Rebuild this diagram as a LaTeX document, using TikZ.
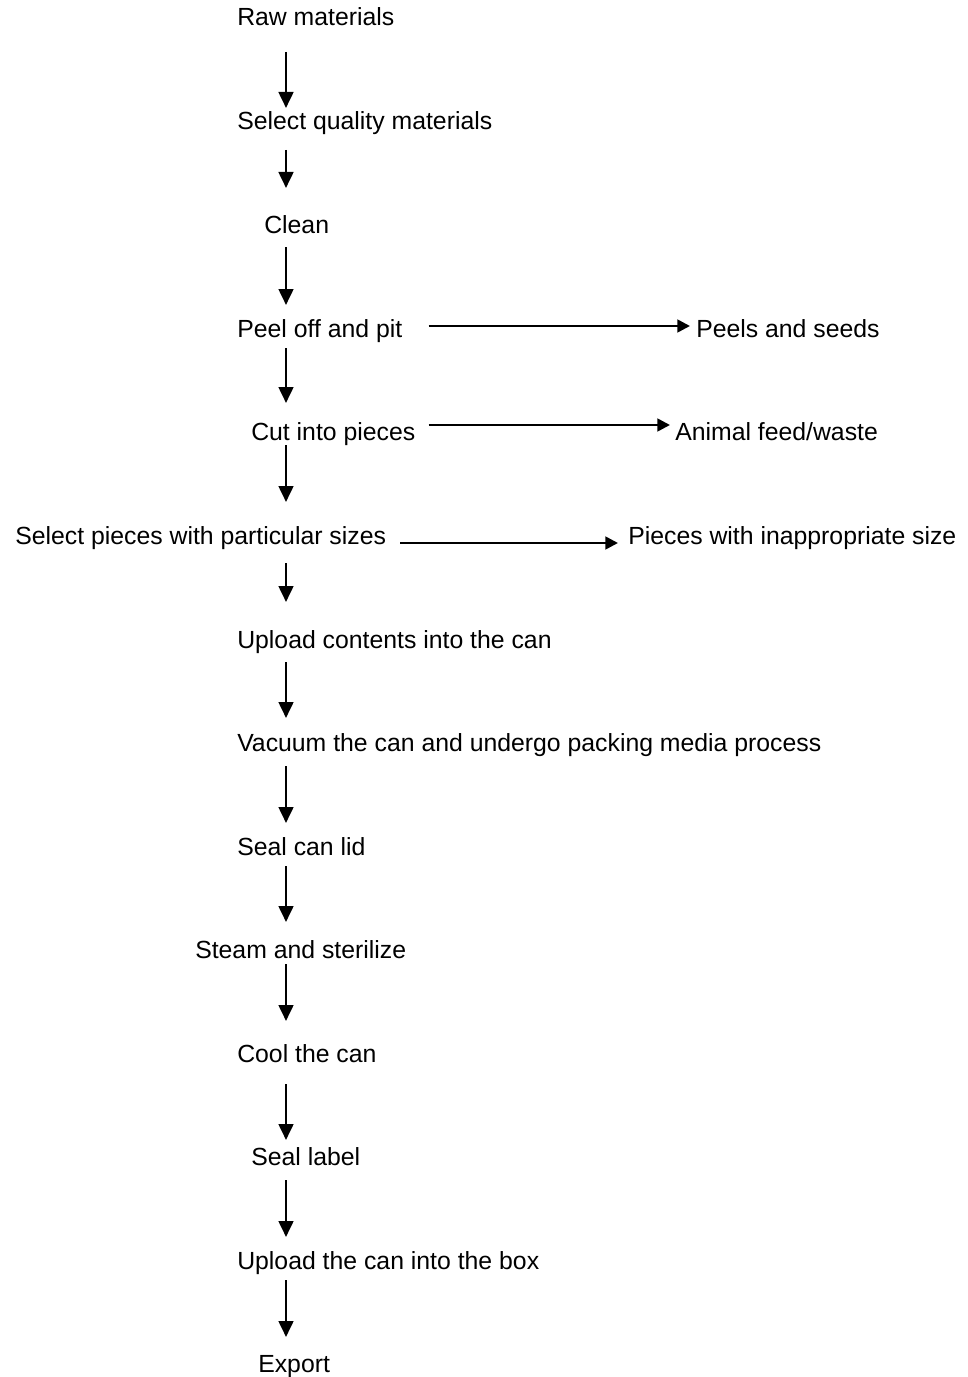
\documentclass[tikz,border=0pt]{standalone}
\usepackage{fontspec}
\setmainfont{Liberation Sans}
\usetikzlibrary{arrows.meta,calc}

\begin{document}
\begin{tikzpicture}[
  x=0.75pt, y=-0.75pt,
  font=\fontsize{18.6}{22}\selectfont,
  stage/.style={anchor=base west, inner sep=0pt},
  down/.style={-{Triangle[length=12pt,width=11pt]}, line width=2pt},
  aside/.style={-{Triangle[length=9.5pt,width=9.5pt]}, line width=2pt},
]
\useasboundingbox (0,0) rectangle (967,1377);
\coordinate (col) at (286,0);

% Main process steps, top to bottom.
\node[stage] (raw)    at (237,26)   {Raw materials};
\node[stage] (selq)   at (237,130)  {Select quality materials};
\node[stage] (clean)  at (264,233)  {Clean};
\node[stage] (peel)   at (237,337)  {Peel off and pit};
\node[stage] (cut)    at (251,440)  {Cut into pieces};
\node[stage] (selp)   at (15,544)   {Select pieces with particular sizes};
\node[stage] (fill)   at (237,648)  {Upload contents into the can};
\node[stage] (vacuum) at (237,751)  {Vacuum the can and undergo packing media process};
\node[stage] (lid)    at (237,855)  {Seal can lid};
\node[stage] (steam)  at (195,958)  {Steam and sterilize};
\node[stage] (cool)   at (237,1062) {Cool the can};
\node[stage] (label)  at (251,1165) {Seal label};
\node[stage] (box)    at (237,1269) {Upload the can into the box};
\node[stage] (export) at (258,1372) {Export};

% Side outputs.
\node[stage] (seeds)   at (696,337) {Peels and seeds};
\node[stage] (feed)    at (675,440) {Animal feed/waste};
\node[stage] (badsize) at (628,544) {Pieces with inappropriate size};

% Downward flow along one column.
\draw[down] ($(col |- raw.base)+(0,26)$)    -- ($(col |- selq.base)+(0,-22)$);
\draw[down] ($(col |- selq.base)+(0,20)$)   -- ($(col |- clean.base)+(0,-45)$);
\draw[down] ($(col |- clean.base)+(0,14)$)  -- ($(col |- peel.base)+(0,-32)$);
\draw[down] ($(col |- peel.base)+(0,11)$)   -- ($(col |- cut.base)+(0,-37)$);
\draw[down] ($(col |- cut.base)+(0,5)$)     -- ($(col |- selp.base)+(0,-42)$);
\draw[down] ($(col |- selp.base)+(0,19)$)   -- ($(col |- fill.base)+(0,-46)$);
\draw[down] ($(col |- fill.base)+(0,14)$)   -- ($(col |- vacuum.base)+(0,-33)$);
\draw[down] ($(col |- vacuum.base)+(0,15)$) -- ($(col |- lid.base)+(0,-32)$);
\draw[down] ($(col |- lid.base)+(0,11)$)    -- ($(col |- steam.base)+(0,-36)$);
\draw[down] ($(col |- steam.base)+(0,6)$)   -- ($(col |- cool.base)+(0,-41)$);
\draw[down] ($(col |- cool.base)+(0,22)$)   -- ($(col |- label.base)+(0,-25)$);
\draw[down] ($(col |- label.base)+(0,15)$)  -- ($(col |- box.base)+(0,-32)$);
\draw[down] ($(col |- box.base)+(0,11)$)    -- ($(col |- export.base)+(0,-35)$);

% By-products going off to the right.
\draw[aside] ($(peel.base east)+(26,-11)$) -- ($(seeds.base west)+(-6,-11)$);
\draw[aside] ($(cut.base east)+(13,-15)$)  -- ($(feed.base west)+(-5,-15)$);
\draw[aside] ($(selp.base east)+(14,-1)$)  -- ($(badsize.base west)+(-10,-1)$);

\end{tikzpicture}
\end{document}
